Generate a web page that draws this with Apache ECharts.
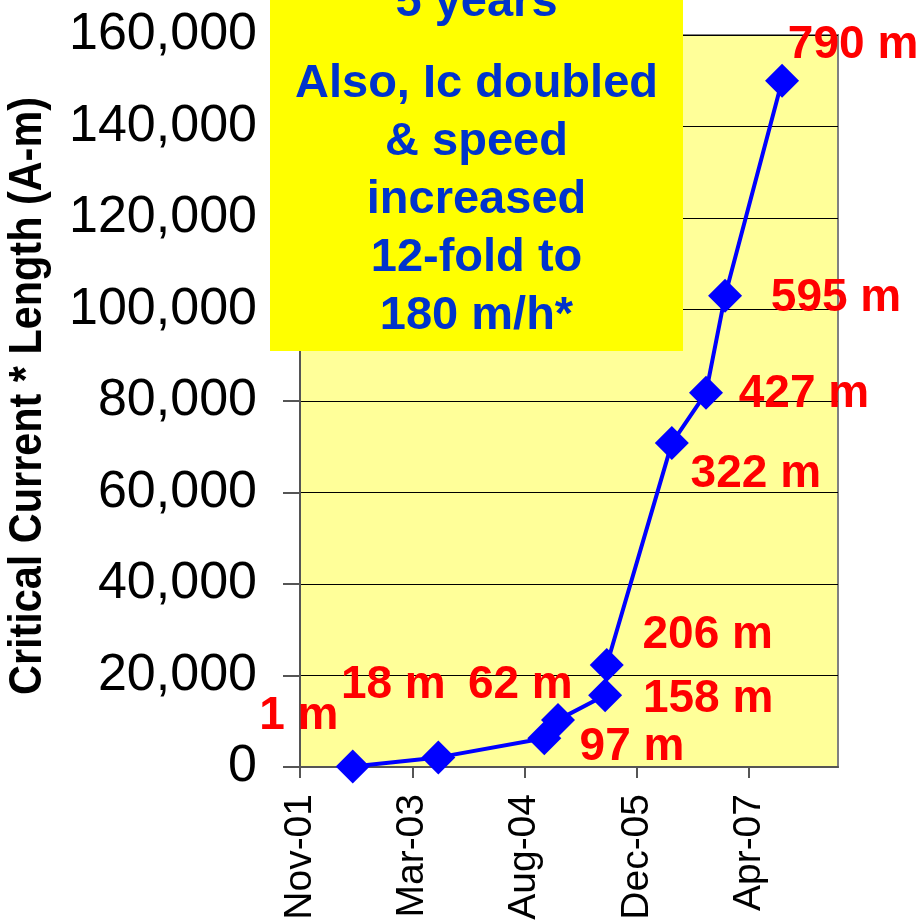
<!DOCTYPE html>
<html>
<head>
<meta charset="utf-8">
<script src="https://cdn.jsdelivr.net/npm/echarts@6/dist/echarts.min.js"></script>
<style>
  html, body { margin: 0; padding: 0; background: #ffffff; }
  #chart { width: 923px; height: 923px; }
</style>
</head>
<body>
<div id="chart"></div>
<script>
// Conductor production milestones: date reached, piece length, Ic * length
const milestoneDates = ['2002-06-28', '2003-07-14', '2004-10-28', '2004-12-28', '2005-07-26',
                        '2005-08-02', '2006-05-19', '2006-10-18', '2007-01-11', '2007-09-22'];
const pieceLengths = [1, 18, 62, 97, 158, 206, 322, 427, 595, 790];
const icTimesLength = [100, 2100, 6300, 10300, 15700, 22300, 70800, 81800, 103000, 150000];

// Date axis: day counts from the first tick date
const axisStartDate = '2001-11-05';
const xTickLabels = ['Nov-01', 'Mar-03', 'Aug-04', 'Dec-05', 'Apr-07'];
const xTickStepDays = 500;
const xMaxDays = 2396;

const yMin = 0, yMax = 160000, yStep = 20000;
const yTitle = 'Critical Current * Length (A-m)';

const noteLines = ['5 years', 'Also, Ic doubled', '& speed', 'increased', '12-fold to', '180 m/h*'];

// ---- layout / style ----
const noteLineY = [3, 84, 142, 200, 258, 316];
const labelOffsets = [[-54, -50], [-45, -72], [-24, -53], [74, 27], [103, 4],
                      [101, -30], [84, 31], [98, 2], [111, 3], [71, -35]];

const DAY = 86400000;
function dayIndex(s) {
  return Math.round((Date.parse(s + 'T00:00:00Z') - Date.parse(axisStartDate + 'T00:00:00Z')) / DAY);
}
const xTickValues = xTickLabels.map((_, i) => i * xTickStepDays);

const seriesData = milestoneDates.map((d, i) => ({
  value: [dayIndex(d), icTimesLength[i]],
  label: { offset: labelOffsets[i], formatter: pieceLengths[i] + ' m' }
}));

const chart = echarts.init(document.getElementById('chart'), null, { renderer: 'canvas' });

const noteTexts = noteLines.map((t, i) => ({
  type: 'text',
  x: 476.5,
  y: noteLineY[i],
  z: 101,
  style: {
    text: t,
    fill: '#0033CC',
    font: 'bold 47px "Liberation Sans", Arial, sans-serif',
    textAlign: 'center',
    textVerticalAlign: 'middle'
  }
}));

chart.setOption({
  animation: false,
  backgroundColor: '#ffffff',
  grid: {
    left: 300, top: 35, right: 85, bottom: 156,
    outerBoundsMode: 'none',
    show: true,
    backgroundColor: '#FFFF99',
    borderColor: '#808080',
    borderWidth: 2,
    containLabel: false
  },
  xAxis: {
    type: 'value',
    min: 0,
    max: xMaxDays,
    interval: xTickStepDays,
    axisLine: { show: true, onZero: false, lineStyle: { color: '#555555', width: 2 } },
    axisTick: { show: true, length: 11, lineStyle: { color: '#555555', width: 2 }, customValues: xTickValues },
    splitLine: { show: false },
    axisLabel: {
      customValues: xTickValues,
      rotate: 90,
      margin: 27,
      color: '#000000',
      fontFamily: '"Liberation Sans", Arial, sans-serif',
      fontSize: 39,
      formatter: v => xTickLabels[Math.round(v / xTickStepDays)] || ''
    }
  },
  yAxis: {
    type: 'value',
    min: yMin,
    max: yMax,
    interval: yStep,
    axisLine: { show: true, lineStyle: { color: '#555555', width: 2 } },
    axisTick: { show: true, length: 17, lineStyle: { color: '#555555', width: 2 } },
    splitLine: { show: true, lineStyle: { color: '#000000', width: 1 } },
    axisLabel: {
      margin: 43,
      color: '#000000',
      fontFamily: '"Liberation Sans", Arial, sans-serif',
      fontSize: 52,
      padding: [6, 0, 0, 0],
      formatter: v => v.toLocaleString('en-US')
    }
  },
  series: [{
    type: 'line',
    data: seriesData,
    clip: false,
    symbol: 'diamond',
    symbolSize: 34,
    lineStyle: { color: '#0000FF', width: 4 },
    itemStyle: { color: '#0000FF' },
    label: {
      show: true,
      position: 'inside',
      align: 'center',
      verticalAlign: 'middle',
      color: '#FF0000',
      fontFamily: '"Liberation Sans", Arial, sans-serif',
      fontWeight: 'bold',
      fontSize: 46
    },
    z: 5
  }],
  graphic: [
    {
      // vertical axis title, set in a condensed bold face
      type: 'text',
      x: 28,
      y: 396,
      rotation: Math.PI / 2,
      scaleX: 0.9,
      style: {
        text: yTitle,
        fill: '#000000',
        font: 'bold 46px "Liberation Sans", Arial, sans-serif',
        textAlign: 'center',
        textVerticalAlign: 'middle'
      }
    },
    {
      type: 'rect',
      shape: { x: 270, y: 0, width: 413, height: 351 },
      style: { fill: '#FFFF00' },
      z: 100
    },
    ...noteTexts
  ]
});
</script>
</body>
</html>
